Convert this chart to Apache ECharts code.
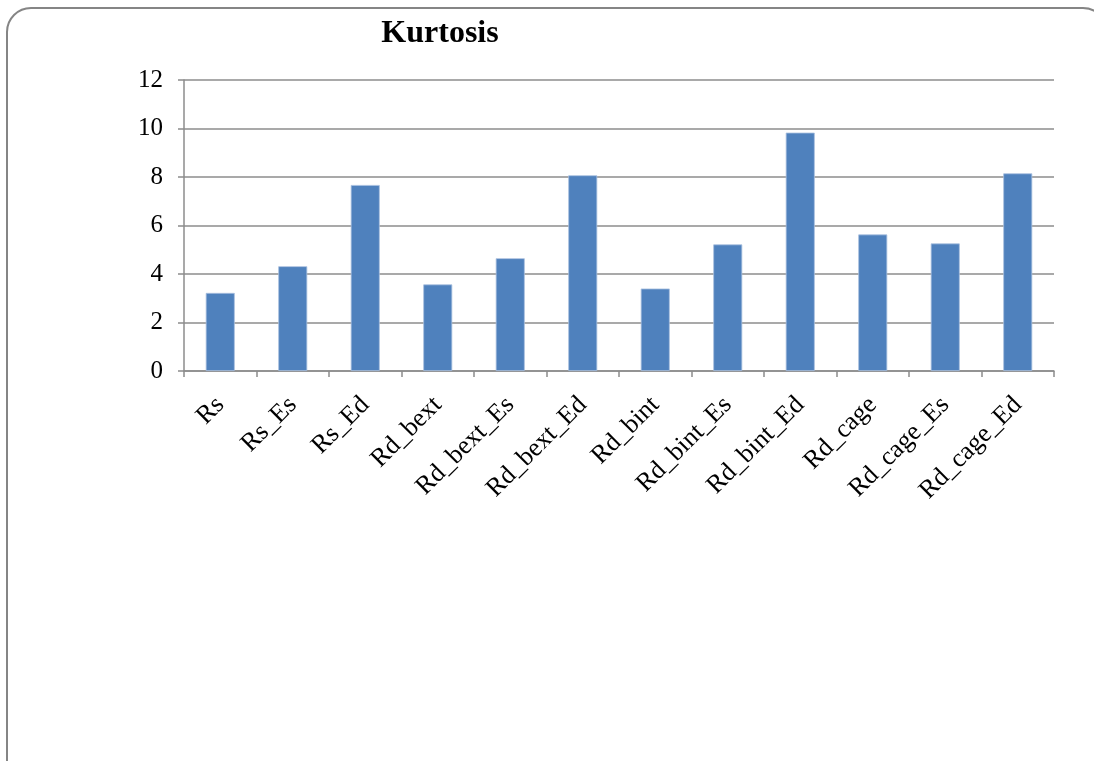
<!DOCTYPE html>
<html>
<head>
<meta charset="utf-8">
<script src="https://cdn.jsdelivr.net/npm/echarts@6/dist/echarts.min.js"></script>
<style>
  html, body { margin: 0; padding: 0; background: #fff; }
  #chart { width: 1094px; height: 761px; }
</style>
</head>
<body>
<div id="chart"></div>
<script>
var chartTitle = "Kurtosis";
var categories = ["Rs", "Rs_Es", "Rs_Ed", "Rd_bext", "Rd_bext_Es", "Rd_bext_Ed",
  "Rd_bint", "Rd_bint_Es", "Rd_bint_Ed", "Rd_cage", "Rd_cage_Es", "Rd_cage_Ed"];
var kurtosis = [3.22, 4.32, 7.67, 3.57, 4.65, 8.07, 3.40, 5.22, 9.83, 5.63, 5.26, 8.15];
var yTicks = [0, 2, 4, 6, 8, 10, 12];

var serif = "'Liberation Serif', 'Times New Roman', serif";
var grey = "#8c8c8c";

var chart = echarts.init(document.getElementById("chart"));

var option = {
  backgroundColor: "#fff",
  animation: false,
  title: {
    text: chartTitle,
    left: 435,
    top: 13,
    textAlign: "center",
    textStyle: {
      fontFamily: serif,
      fontWeight: "bold",
      fontSize: 32,
      color: "#000"
    }
  },
  // outer rounded frame
  graphic: [{
    type: "rect",
    shape: { x: 7, y: 8, width: 1100, height: 780, r: 24 },
    style: { fill: "none", stroke: "#858585", lineWidth: 2 },
    silent: true
  }],
  grid: {
    left: 184,
    right: 40,
    top: 80,
    bottom: 390
  },
  xAxis: {
    type: "category",
    data: categories,
    axisLine: { show: true, lineStyle: { color: grey, width: 1.5 } },
    axisTick: { show: true, alignWithLabel: false, length: 6, lineStyle: { color: grey, width: 1.5 } },
    axisLabel: {
      rotate: 45,
      interval: 0,
      margin: 30,
      fontFamily: serif,
      fontSize: 26,
      color: "#000"
    },
    splitLine: { show: false }
  },
  yAxis: {
    type: "value",
    min: yTicks[0],
    max: yTicks[yTicks.length - 1],
    interval: 2,
    axisLine: { show: true, lineStyle: { color: grey, width: 1.5 } },
    axisTick: { show: true, length: 6, lineStyle: { color: grey, width: 1.5 } },
    axisLabel: {
      margin: 21,
      fontFamily: serif,
      fontSize: 25,
      color: "#000"
    },
    splitLine: { show: true, lineStyle: { color: grey, width: 1.5 } }
  },
  series: [{
    name: chartTitle,
    type: "bar",
    data: kurtosis,
    barCategoryGap: "60%",
    itemStyle: {
      color: "#4f81bd",
      borderColor: "#a9c0e0",
      borderWidth: 0.8
    }
  }]
};

chart.setOption(option);
</script>
</body>
</html>
